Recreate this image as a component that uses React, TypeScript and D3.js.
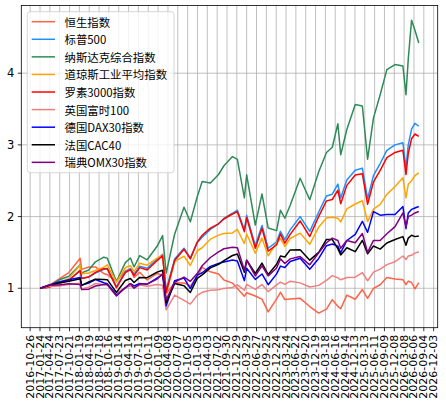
import React from 'react';
import * as d3 from 'd3';

const dates = [
  "2017-01-26","2017-04-15","2017-07-15","2017-10-15",
  "2018-01-26","2018-02-09","2018-04-15","2018-06-15","2018-08-30","2018-10-01","2018-12-24",
  "2019-03-15","2019-05-01","2019-06-03","2019-07-25","2019-10-01","2019-12-31",
  "2020-02-19","2020-03-23","2020-06-08","2020-09-02","2020-10-30",
  "2021-01-01","2021-02-15","2021-05-01","2021-07-15","2021-09-02","2021-11-19",
  "2022-01-03","2022-03-08","2022-03-29","2022-06-16","2022-08-16","2022-10-12","2022-12-28",
  "2023-02-01","2023-03-13","2023-05-01","2023-07-31","2023-10-27",
  "2024-01-17","2024-03-28","2024-05-20","2024-07-10","2024-08-05","2024-09-30","2024-12-16",
  "2025-02-19","2025-04-08","2025-06-01","2025-08-01","2025-10-01","2025-12-15",
  "2026-02-25","2026-03-25","2026-04-15","2026-05-15","2026-06-15","2026-07-20"
];

const hsi = [1.000,1.038,1.129,1.219, 1.419,1.263,1.297,1.297,1.205,1.189,1.098, 1.241,1.271,1.151,1.224,1.116,1.206, 1.183,0.928,1.072,1.075,1.032, 1.165,1.291,1.229,1.198,1.116,1.072, 0.996,0.888,0.938,0.892,0.849,0.670,0.851, 0.944,0.843,0.851,0.859,0.745, 0.654,0.708,0.840,0.748,0.714,0.904,0.847, 0.982,0.860,0.997,1.049,1.149,1.130, 1.120,1.050,1.100,1.080,0.990,1.080];
const sp500 = [1.000,1.015,1.071,1.112, 1.251,1.141,1.157,1.211,1.263,1.274,1.024, 1.229,1.274,1.195,1.308,1.280,1.407, 1.475,0.974,1.408,1.559,1.424, 1.636,1.713,1.821,1.899,1.976,2.046, 2.089,1.816,2.017,1.597,1.875,1.558,1.648, 1.794,1.679,1.815,1.999,1.793, 2.064,2.288,2.312,2.453,2.259,2.510,2.645, 2.676,2.250,2.575,2.740,2.923,3.000, 3.030,2.680,3.000,3.220,3.300,3.260];
const nasdaq = [1.000,1.026,1.115,1.167, 1.326,1.214,1.255,1.369,1.433,1.420,1.094, 1.358,1.422,1.296,1.455,1.397,1.585, 1.734,1.212,1.753,2.130,1.928, 2.277,2.490,2.467,2.587,2.709,2.837, 2.797,2.261,2.583,1.881,2.315,1.840,1.804, 2.088,1.977,2.158,2.535,2.234, 2.625,2.894,2.967,3.295,2.862,3.214,3.564, 3.543,2.800,3.377,3.700,4.050,4.120, 4.100,3.700,4.200,4.740,4.600,4.420];
const dow = [1.000,1.018,1.077,1.138, 1.324,1.203,1.212,1.248,1.293,1.326,1.084, 1.286,1.315,1.235,1.350,1.322,1.420, 1.460,0.925,1.372,1.448,1.318, 1.523,1.565,1.685,1.741,1.763,1.771, 1.820,1.623,1.756,1.489,1.699,1.453,1.636, 1.696,1.583,1.694,1.769,1.613, 1.854,1.980,1.990,1.976,1.926,2.106,2.175, 2.220,1.930,2.103,2.170,2.310,2.420, 2.540,2.260,2.450,2.500,2.570,2.610];
const russell3000 = [1.000,1.013,1.069,1.112, 1.245,1.135,1.157,1.221,1.273,1.274,1.009, 1.217,1.261,1.177,1.288,1.254,1.386, 1.453,0.945,1.387,1.543,1.410, 1.644,1.739,1.839,1.899,1.966,2.036, 2.068,1.789,1.987,1.557,1.838,1.519,1.607, 1.758,1.629,1.751,1.939,1.721, 2.002,2.219,2.238,2.367,2.180,2.435,2.579, 2.596,2.171,2.485,2.644,2.821,2.895, 2.924,2.586,2.880,3.085,3.152,3.120];
const ftse100 = [1.000,1.023,1.030,1.052, 1.071,0.990,1.015,1.066,1.050,1.047,0.934, 1.009,1.031,1.007,1.046,1.028,1.053, 1.041,0.697,0.904,0.830,0.779, 0.902,0.943,0.973,0.979,0.998,1.009, 1.048,0.972,1.053,0.984,1.052,0.953,1.047, 1.084,1.054,1.099,1.075,1.018, 1.040,1.111,1.176,1.144,1.118,1.150,1.154, 1.217,1.105,1.225,1.267,1.330,1.370, 1.450,1.400,1.450,1.460,1.490,1.510];
const dax30 = [1.000,1.044,1.089,1.120, 1.150,1.044,1.073,1.122,1.077,1.064,0.905, 1.007,1.064,1.032,1.066,1.057,1.142, 1.189,0.754,1.105,1.142,0.996, 1.183,1.216,1.305,1.347,1.366,1.393, 1.381,1.106,1.278,1.124,1.199,1.049,1.200, 1.309,1.290,1.373,1.418,1.266, 1.416,1.594,1.618,1.587,1.495,1.666,1.751, 1.934,1.780,2.069,2.019,2.030,2.030, 2.140,1.830,2.050,2.100,2.120,2.140];
const cac40 = [1.000,1.039,1.073,1.097, 1.133,1.041,1.089,1.127,1.123,1.120,0.942, 1.108,1.135,1.080,1.151,1.147,1.225, 1.252,0.802,1.065,1.035,0.941, 1.138,1.186,1.285,1.334,1.386,1.457, 1.479,1.222,1.392,1.206,1.351,1.192,1.334, 1.450,1.437,1.535,1.536,1.392, 1.500,1.681,1.679,1.552,1.465,1.565,1.511, 1.669,1.480,1.589,1.546,1.632,1.680, 1.720,1.600,1.700,1.740,1.720,1.730];
const omx30 = [1.000,1.045,1.045,1.064, 1.051,0.981,0.987,1.032,1.051,1.051,0.891, 1.006,1.064,1.000,1.058,1.058,1.128, 1.202,0.840,1.083,1.154,1.096, 1.205,1.314,1.429,1.506,1.551,1.571, 1.564,1.250,1.391,1.173,1.314,1.173,1.282, 1.410,1.346,1.410,1.442,1.327, 1.494,1.635,1.699,1.667,1.558,1.667,1.635, 1.763,1.500,1.667,1.667,1.760,1.860, 2.050,1.860,2.000,2.020,2.050,2.070];

const seriesNames = ["恒生指数","标普500","纳斯达克综合指数","道琼斯工业平均指数","罗素3000指数","英国富时100","德国DAX30指数","法国CAC40","瑞典OMX30指数"];
const seriesValues = [hsi, sp500, nasdaq, dow, russell3000, ftse100, dax30, cac40, omx30];
const seriesColors = ["#FF6347","#1E90FF","#2E8B57","#FFA500","#FF0000","#F08080","#0000FF","#000000","#800080"];

const xTickLabels = [
  "2016-10-26","2017-01-24","2017-04-24","2017-07-23","2017-10-21","2018-01-19","2018-04-19","2018-07-18",
  "2018-10-16","2019-01-14","2019-04-14","2019-07-13","2019-10-11","2020-01-09","2020-04-08","2020-07-07",
  "2020-10-05","2021-01-03","2021-04-03","2021-07-02","2021-09-30","2021-12-29","2022-03-29","2022-06-27",
  "2022-09-25","2022-12-24","2023-03-24","2023-06-22","2023-09-20","2023-12-19","2024-03-18","2024-06-16",
  "2024-09-14","2024-12-13","2025-03-13","2025-06-11","2025-09-09","2025-12-08","2026-03-08","2026-06-06",
  "2026-09-04","2026-12-03"
];
const yTicks = [1, 2, 3, 4];

const W = 446, H = 403;
const M = { left: 21.3, right: 437.7, top: 5.5, bottom: 327.7 };
const tickFont = "'DejaVu Sans', sans-serif";
const cjkFont = "'Noto Sans CJK SC', 'DejaVu Sans', sans-serif";

export default function App() {
  const parse = d3.utcParse('%Y-%m-%d');
  const xs = dates.map(d => parse(d) as Date);
  const ext = d3.extent(xs) as [Date, Date];
  const span = +ext[1] - +ext[0];
  const x = d3.scaleUtc()
    .domain([new Date(+ext[0] - 0.05 * span), new Date(+ext[1] + 0.05 * span)])
    .range([M.left, M.right]);
  const all = seriesValues.flat();
  const ymin = d3.min(all) as number, ymax = d3.max(all) as number;
  const ys = ymax - ymin;
  const y = d3.scaleLinear().domain([ymin - 0.05 * ys, ymax + 0.05 * ys]).range([M.bottom, M.top]);
  const line = d3.line<number>().x((_, i) => x(xs[i])).y(v => y(v));
  const xt = xTickLabels.map(s => ({ s, px: x(parse(s) as Date) }));

  const legX = 27.3, legY = 11.7, legW = 146.7, legH = 161;
  const rowY0 = 21.7, rowStep = 17.58;

  return (
    <svg width={W} height={H} style={{ position: 'absolute', left: 0, top: 0, background: '#fff' }}>
      <rect x={0} y={0} width={W} height={H} fill="#fff" />
      <defs>
        <clipPath id="plot">
          <rect x={M.left} y={M.top} width={M.right - M.left} height={M.bottom - M.top} />
        </clipPath>
      </defs>
      {/* grid */}
      <g stroke="#b0b0b0" strokeWidth={0.8}>
        {xt.map(t => (
          <line key={t.s} x1={t.px} x2={t.px} y1={M.top} y2={M.bottom} />
        ))}
        {yTicks.map(v => (
          <line key={v} x1={M.left} x2={M.right} y1={y(v)} y2={y(v)} />
        ))}
      </g>
      {/* series */}
      <g clipPath="url(#plot)" fill="none" strokeWidth={1.5} strokeLinejoin="round">
        {seriesValues.map((vals, i) => (
          <path key={seriesNames[i]} d={line(vals) || ''} stroke={seriesColors[i]} />
        ))}
      </g>
      {/* frame */}
      <rect x={M.left} y={M.top} width={M.right - M.left} height={M.bottom - M.top} fill="none" stroke="#000" strokeWidth={0.8} />
      {/* x ticks */}
      <g>
        {xt.map(t => (
          <g key={t.s}>
            <line x1={t.px} x2={t.px} y1={M.bottom} y2={M.bottom + 3.5} stroke="#000" strokeWidth={0.8} />
            <text transform={`translate(${t.px},${M.bottom + 7}) rotate(-90)`} textAnchor="end" dominantBaseline="central"
              fontFamily={tickFont} fontSize={11} fill="#000">{t.s}</text>
          </g>
        ))}
      </g>
      {/* y ticks */}
      <g>
        {yTicks.map(v => (
          <g key={v}>
            <line x1={M.left - 3.5} x2={M.left} y1={y(v)} y2={y(v)} stroke="#000" strokeWidth={0.8} />
            <text x={M.left - 7} y={y(v)} textAnchor="end" dominantBaseline="central" fontFamily={tickFont} fontSize={11.5} fill="#000">{v}</text>
          </g>
        ))}
      </g>
      {/* legend */}
      <g>
        <rect x={legX} y={legY} width={legW} height={legH} rx={3} fill="#fff" fillOpacity={0.8} stroke="#cccccc" strokeWidth={0.8} />
        {seriesNames.map((n, i) => {
          const cy = rowY0 + i * rowStep;
          return (
            <g key={n}>
              <line x1={31.7} x2={55} y1={cy} y2={cy} stroke={seriesColors[i]} strokeWidth={1.5} />
              <text x={64.5} y={cy} dominantBaseline="central" fontFamily={cjkFont} fontSize={11.4} fill="#000">{n}</text>
            </g>
          );
        })}
      </g>
    </svg>
  );
}
